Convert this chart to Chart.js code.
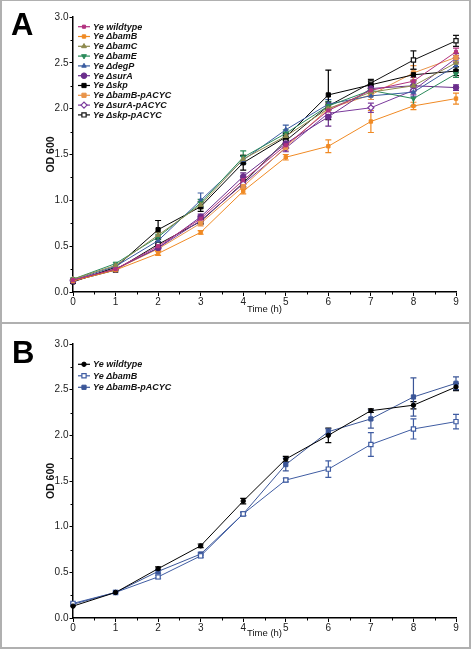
<!DOCTYPE html>
<html><head><meta charset="utf-8">
<script src="https://cdn.jsdelivr.net/npm/chart.js@4.4.0/dist/chart.umd.min.js"></script>
<style>
html,body{margin:0;padding:0;background:#fff;}
#wrap{position:relative;width:472px;height:649px;overflow:hidden;background:#fff;}
canvas{position:absolute;left:0;}
.frame{position:absolute;box-sizing:border-box;border:2px solid #b0b0b0;pointer-events:none;}
</style></head>
<body>
<div id="wrap">
<canvas id="cA" width="472" height="323" style="top:0"></canvas>
<canvas id="cB" width="472" height="326" style="top:323px"></canvas>
<div class="frame" style="left:0;top:0;width:471px;height:324px;border-top-width:1px"></div>
<div class="frame" style="left:0;top:322px;width:471px;height:327px;"></div>
</div>
<script>
// ---------- DATA ----------
const times = [0,1,2,3,4,5,6,7,8,9];
const yTicks = [0,0.5,1.0,1.5,2.0,2.5,3.0];

// Panel A
const labelsA = ['Ye wildtype','Ye \u0394bamB','Ye \u0394bamC','Ye \u0394bamE','Ye \u0394degP','Ye \u0394surA','Ye \u0394skp','Ye \u0394bamB-pACYC','Ye \u0394surA-pACYC','Ye \u0394skp-pACYC'];
const wtA    = [0.13,0.25,0.50,0.80,1.22,1.60,1.98,2.20,2.30,2.62];
const bamBA  = [0.12,0.24,0.42,0.65,1.10,1.47,1.59,1.86,2.03,2.11];
const bamCA  = [0.14,0.29,0.62,0.95,1.45,1.70,2.00,2.18,2.25,2.50];
const bamEA  = [0.14,0.31,0.60,0.97,1.47,1.73,2.03,2.20,2.11,2.38];
const degPA  = [0.13,0.28,0.56,1.00,1.44,1.77,2.05,2.14,2.18,2.47];
const surAA  = [0.12,0.25,0.48,0.82,1.26,1.62,1.91,2.22,2.25,2.23];
const skpA   = [0.11,0.27,0.68,0.93,1.41,1.69,2.15,2.26,2.37,2.41];
const bamBpA = [0.13,0.25,0.47,0.75,1.15,1.58,2.00,2.15,2.39,2.56];
const surApA = [0.13,0.25,0.48,0.78,1.18,1.57,1.95,2.01,2.20,2.55];
const skppA  = [0.12,0.24,0.52,0.77,1.19,1.65,2.03,2.28,2.53,2.74];

const wtAErr    = [0.01,0.01,0.02,0.03,0.03,0.03,0.04,0.03,0.04,0.04];
const bamBAErr  = [0.01,0.01,0.02,0.02,0.03,0.03,0.07,0.12,0.04,0.06];
const bamCAErr  = [0.01,0.01,0.03,0.04,0.04,0.04,0.05,0.04,0.05,0.05];
const bamEAErr  = [0.01,0.01,0.03,0.04,0.07,0.04,0.05,0.04,0.08,0.04];
const degPAErr  = [0.01,0.01,0.03,0.08,0.04,0.05,0.05,0.04,0.05,0.05];
const surAAErr  = [0.01,0.01,0.02,0.03,0.04,0.04,0.10,0.04,0.04,0.03];
const skpAErr   = [0.01,0.01,0.10,0.05,0.08,0.04,0.27,0.04,0.06,0.05];
const bamBpAErr = [0.01,0.01,0.02,0.03,0.03,0.04,0.04,0.05,0.08,0.05];
const surApAErr = [0.01,0.01,0.02,0.03,0.04,0.04,0.04,0.05,0.05,0.05];
const skppAErr  = [0.01,0.01,0.03,0.03,0.04,0.04,0.04,0.04,0.10,0.06];

// Panel B
const labelsB = ['Ye wildtype','Ye \u0394bamB','Ye \u0394bamB-pACYC'];
const wtB    = [0.13,0.28,0.54,0.79,1.28,1.74,2.00,2.27,2.33,2.53];
const bamBB  = [0.16,0.28,0.45,0.68,1.14,1.51,1.63,1.90,2.07,2.15];
const bamBpB = [0.15,0.28,0.51,0.70,1.14,1.68,2.04,2.18,2.42,2.57];
const wtBErr    = [0.01,0.01,0.02,0.02,0.03,0.03,0.08,0.02,0.04,0.04];
const bamBBErr  = [0.01,0.01,0.02,0.02,0.02,0.02,0.09,0.13,0.11,0.08];
const bamBpBErr = [0.01,0.01,0.02,0.02,0.02,0.07,0.03,0.10,0.21,0.07];

// ---------- STYLES ----------
const FONT = "'Liberation Sans', Arial, sans-serif";
function ds(label, vals, errs, color, style, opts) {
  opts = opts || {};
  return {
    label: label,
    data: times.map((t,i)=>({x:t, y:vals[i]})),
    err: errs,
    borderColor: color,
    backgroundColor: opts.open ? '#ffffff' : color,
    pointBackgroundColor: opts.open ? '#ffffff' : color,
    pointBorderColor: color,
    pointStyle: style,
    pointRadius: opts.r || 2.6,
    pointRotation: opts.rot || 0,
    pointBorderWidth: opts.open ? 1.2 : 1,
    borderWidth: 1,
    tension: 0,
    clip: false,
    fill: false
  };
}

const datasetsA = [
  ds(labelsA[0], wtA, wtAErr, '#b2327f', 'rect', {r:2.2}),
  ds(labelsA[1], bamBA, bamBAErr, '#f08a24', 'rect', {r:2.4}),
  ds(labelsA[2], bamCA, bamCAErr, '#8e8a4e', 'triangle', {r:2.8}),
  ds(labelsA[3], bamEA, bamEAErr, '#2a8a5a', 'triangle', {r:2.8, rot:180}),
  ds(labelsA[4], degPA, degPAErr, '#3a5ca0', 'triangle', {r:2.6}),
  ds(labelsA[5], surAA, surAAErr, '#6a2d8c', 'circle', {r:2.8}),
  ds(labelsA[6], skpA, skpAErr, '#000000', 'rect', {r:3}),
  ds(labelsA[7], bamBpA, bamBpAErr, '#e8944a', 'rect', {r:3}),
  ds(labelsA[8], surApA, surApAErr, '#7a3a9c', 'rectRot', {r:3, open:true}),
  ds(labelsA[9], skppA, skppAErr, '#111111', 'rect', {r:3, open:true})
];
const datasetsB = [
  ds(labelsB[0], wtB, wtBErr, '#000000', 'circle', {r:2.2}),
  ds(labelsB[1], bamBB, bamBBErr, '#3f5ca2', 'rect', {r:3, open:true}),
  ds(labelsB[2], bamBpB, bamBpBErr, '#3b5698', 'rect', {r:3})
];

// ---------- PLUGINS ----------
const errorBars = {
  id: 'errorBars',
  beforeDatasetsDraw(chart) {
    const ctx = chart.ctx, xs = chart.scales.x, ys = chart.scales.y;
    chart.data.datasets.forEach(d => {
      if (!d.err) return;
      ctx.save();
      ctx.strokeStyle = d.borderColor;
      ctx.lineWidth = 1.2;
      d.data.forEach((p,i) => {
        const e = d.err[i]; if (!e || e < 0.015) return;
        const x = xs.getPixelForValue(p.x);
        const y1 = ys.getPixelForValue(p.y + e), y2 = ys.getPixelForValue(p.y - e);
        ctx.beginPath();
        ctx.moveTo(x, y1); ctx.lineTo(x, y2);
        ctx.moveTo(x-3, y1); ctx.lineTo(x+3, y1);
        ctx.moveTo(x-3, y2); ctx.lineTo(x+3, y2);
        ctx.stroke();
      });
      ctx.restore();
    });
  }
};
const minorTicks = {
  id: 'minorTicks',
  afterDraw(chart) {
    const ctx = chart.ctx, xs = chart.scales.x, ys = chart.scales.y, a = chart.chartArea;
    ctx.save(); ctx.strokeStyle = '#000'; ctx.lineWidth = 1;
    ctx.beginPath();
    for (let t = 0.5; t < 9; t += 1) { const x = Math.round(xs.getPixelForValue(t))+0.5; ctx.moveTo(x, a.bottom); ctx.lineTo(x, a.bottom+2.5); }
    for (let v = 0.25; v < 3; v += 0.5) { const y = Math.round(ys.getPixelForValue(v))+0.5; ctx.moveTo(a.left, y); ctx.lineTo(a.left-2.5, y); }
    ctx.stroke(); ctx.restore();
  }
};
const customLegend = {
  id: 'customLegend',
  afterDraw(chart, args, o) {
    const ctx = chart.ctx;
    ctx.save();
    ctx.font = 'italic bold 9px ' + FONT;
    ctx.textBaseline = 'middle';
    chart.data.datasets.forEach((d, i) => {
      const y = o.y0 + i * o.dy, x = o.x0;
      ctx.strokeStyle = d.borderColor; ctx.lineWidth = 1.2;
      ctx.beginPath(); ctx.moveTo(x, y); ctx.lineTo(x+12, y); ctx.stroke();
      ctx.fillStyle = d.pointBackgroundColor; ctx.strokeStyle = d.pointBorderColor; ctx.lineWidth = d.pointBorderWidth;
      Chart.helpers.drawPoint(ctx, {pointStyle: d.pointStyle, radius: d.pointRadius, rotation: d.pointRotation, borderWidth: d.pointBorderWidth}, x+6, y);
      ctx.fillStyle = '#111';
      ctx.fillText(d.label, x+15, y+0.5);
    });
    // panel letter
    ctx.font = 'bold 31px ' + FONT;
    ctx.textBaseline = 'alphabetic';
    ctx.fillStyle = '#000';
    ctx.fillText(o.letter, o.lx, o.ly);
    ctx.restore();
  }
};

function makeChart(id, datasets, padTop, xH, titlePadB, legendOpts) {
  return new Chart(document.getElementById(id), {
    type: 'line',
    data: { datasets: datasets },
    plugins: [errorBars, minorTicks, customLegend],
    options: {
      responsive: false, maintainAspectRatio: false, devicePixelRatio: 1, animation: false,
      layout: { padding: { top: padTop, right: 16, left: 0, bottom: 0 } },
      plugins: { legend: { display: false }, tooltip: { enabled: false }, customLegend: legendOpts },
      scales: {
        x: {
          type: 'linear', min: 0, max: 9,
          afterBuildTicks: s => { s.ticks = times.map(v => ({value: v})); },
          afterFit: s => { s.height = xH; },
          ticks: { color: '#222', font: { family: FONT, size: 10 }, padding: 0, maxRotation: 0, autoSkip: false },
          grid: { display: true, drawOnChartArea: false, drawTicks: true, tickLength: 4, color: '#000', lineWidth: 1 },
          border: { display: true, color: '#000', width: 1.5 },
          title: { display: true, text: 'Time (h)', color: '#111', font: { family: FONT, size: 9.5 }, padding: { top: 0, bottom: titlePadB } }
        },
        y: {
          type: 'linear', min: 0, max: 3,
          afterBuildTicks: s => { s.ticks = yTicks.map(v => ({value: v})); },
          afterFit: s => { s.width = 73; },
          ticks: { color: '#222', font: { family: FONT, size: 10 }, padding: 1, callback: v => v.toFixed(1) },
          grid: { display: true, drawOnChartArea: false, drawTicks: true, tickLength: 3.5, color: '#000', lineWidth: 1 },
          border: { display: true, color: '#000', width: 1.5 },
          title: { display: true, text: 'OD 600', color: '#111', font: { family: FONT, size: 10.5, weight: 'bold' }, padding: { top: 45, bottom: 0 } }
        }
      }
    }
  });
}

makeChart('cA', datasetsA, 17, 31, 8, { x0: 78, y0: 26.7, dy: 9.8, letter: 'A', lx: 11, ly: 35 });
makeChart('cB', datasetsB, 21, 31, 10, { x0: 78, y0: 41.3, dy: 11.5, letter: 'B', lx: 12, ly: 40 });
</script>
</body></html>
